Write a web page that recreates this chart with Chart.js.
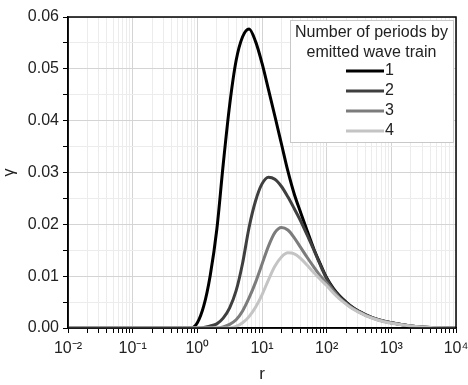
<!DOCTYPE html>
<html lang="en">
<head>
    <meta charset="UTF-8">
    <title>Gamma vs r</title>
    <script src="https://cdn.jsdelivr.net/npm/chart.js"></script>
    <style>
        html, body { margin: 0; padding: 0; background: #fff; }
        #wrap { width: 468px; height: 385px; }
    </style>
</head>
<body>
    <div id="wrap"><canvas id="chart" width="468" height="385"></canvas></div>

    <script>
        // r sample positions (log axis)
        const rValues = [0.01, 0.1, 0.3, 0.63, 0.8,
            1, 1.26, 1.58, 2, 2.51, 3.16, 3.98, 5.01, 6.31, 7.94,
            10, 12.6, 15.8, 20, 25.1, 31.6, 39.8, 50.1, 63.1, 79.4,
            100, 126, 158, 200, 251, 316, 398,
            631, 1000, 2000, 4000, 10000];

        const gamma1 = [0, 0, 0, 0, 0,
            0.0010, 0.0043, 0.0101, 0.0190, 0.0315, 0.0430, 0.0516, 0.0562, 0.0577, 0.0553,
            0.0511, 0.0460, 0.0409, 0.0355, 0.0303, 0.0258, 0.0222, 0.0187, 0.0153, 0.0124,
            0.0097, 0.0077, 0.0062, 0.0050, 0.0040, 0.0032, 0.0026,
            0.0016, 0.0010, 0.0004, 0.0001, 0];
        const gamma2 = [0, 0, 0, 0, 0,
            0, 0.0001, 0.0004, 0.0008, 0.0019, 0.0039, 0.0072, 0.0125, 0.0194, 0.0245,
            0.0278, 0.0291, 0.0287, 0.0273, 0.0253, 0.0230, 0.0206, 0.0179, 0.0151, 0.0122,
            0.0095, 0.0075, 0.0060, 0.0049, 0.0039, 0.0032, 0.0025,
            0.0016, 0.0010, 0.0004, 0.0001, 0];
        const gamma3 = [0, 0, 0, 0, 0,
            0, 0, 0, 0, 0.0002, 0.0007, 0.0016, 0.0033, 0.0058, 0.0088,
            0.0123, 0.0158, 0.0184, 0.0194, 0.0189, 0.0174, 0.0155, 0.0136, 0.0118, 0.0101,
            0.0087, 0.0072, 0.0058, 0.0047, 0.0038, 0.0031, 0.0025,
            0.0016, 0.0010, 0.0004, 0.0001, 0];
        const gamma4 = [0, 0, 0, 0, 0,
            0, 0, 0, 0, 0, 0, 0.0003, 0.0010, 0.0022, 0.0040,
            0.0064, 0.0093, 0.0119, 0.0137, 0.0145, 0.0143, 0.0134, 0.0121, 0.0107, 0.0094,
            0.0082, 0.0068, 0.0056, 0.0046, 0.0037, 0.0030, 0.0024,
            0.0015, 0.0009, 0.0004, 0.0001, 0];

        const seriesLabels = ['1', '2', '3', '4'];
        const seriesColors = ['#000000', '#3f3f3f', '#7c7c7c', '#c4c4c4'];
        const legendTitle = ['Number of periods by', 'emitted wave train'];

        const xTickLabels = {0.01: '10\u207B\u00B2', 0.1: '10\u207B\u00B9', 1: '10\u2070', 10: '10\u00B9',
            100: '10\u00B2', 1000: '10\u00B3', 10000: '10\u2074'};

        const FONT = "'Liberation Sans', Arial, sans-serif";
        Chart.defaults.font.family = FONT;
        Chart.defaults.color = '#222';

        const toPoints = arr => arr.map((v, i) => ({ x: rValues[i], y: v }));

        function isDecade(v) {
            const e = Math.log10(v);
            return Math.abs(e - Math.round(e)) < 1e-9;
        }

        // frame + boxed legend inside the plot
        const framePlugin = {
            id: 'frameLegend',
            afterDatasetsDraw(chart) {
                const { ctx, chartArea: a } = chart;
                ctx.save();
                ctx.strokeStyle = '#000';
                ctx.lineWidth = 1.5;
                ctx.strokeRect(a.left, a.top, a.right - a.left, a.bottom - a.top);

                const w = 163, h = 122;
                const bx = a.right - 3 - w, by = a.top + 3;
                ctx.fillStyle = '#fff';
                ctx.fillRect(bx, by, w, h);
                ctx.strokeStyle = '#c8c8c8';
                ctx.lineWidth = 1;
                ctx.strokeRect(bx + 0.5, by + 0.5, w, h);

                ctx.fillStyle = '#222';
                ctx.font = '16px ' + FONT;
                ctx.textAlign = 'center';
                ctx.textBaseline = 'middle';
                ctx.fillText(legendTitle[0], bx + w / 2, by + 13);
                ctx.fillText(legendTitle[1], bx + w / 2, by + 33);

                chart.data.datasets.forEach((ds, i) => {
                    const y = by + 51 + i * 20;
                    ctx.strokeStyle = ds.borderColor;
                    ctx.lineWidth = 3;
                    ctx.beginPath();
                    ctx.moveTo(bx + 56, y);
                    ctx.lineTo(bx + 94, y);
                    ctx.stroke();
                    ctx.fillStyle = '#222';
                    ctx.textAlign = 'left';
                    ctx.fillText(ds.label, bx + 95, y);
                });
                ctx.restore();
            }
        };

        new Chart(document.getElementById('chart'), {
            type: 'line',
            data: {
                datasets: [gamma1, gamma2, gamma3, gamma4].map((g, i) => ({
                    label: seriesLabels[i],
                    data: toPoints(g),
                    borderColor: seriesColors[i],
                    borderWidth: 3,
                    pointRadius: 0,
                    cubicInterpolationMode: 'monotone',
                    order: 3 - i
                }))
            },
            options: {
                responsive: false,
                animation: false,
                layout: { padding: { left: 0, right: 12, top: 17, bottom: 0 } },
                plugins: { legend: { display: false }, tooltip: { enabled: false } },
                scales: {
                    x: {
                        type: 'logarithmic',
                        min: 0.01,
                        max: 10000,
                        afterBuildTicks: scale => {
                            const ticks = [];
                            for (let e = -2; e <= 4; e++) {
                                for (let m = 1; m <= 9; m++) {
                                    const v = Number((m * Math.pow(10, e)).toPrecision(6));
                                    if (v > 10000) break;
                                    ticks.push({ value: v });
                                }
                            }
                            scale.ticks = ticks;
                        },
                        afterFit: scale => {
                            scale.height = 57;
                            scale.paddingLeft = 0;
                            scale.paddingRight = 0;
                        },
                        ticks: {
                            autoSkip: false,
                            maxRotation: 0,
                            padding: 6,
                            font: { size: 16 },
                            callback: v => xTickLabels[v] || ''
                        },
                        grid: {
                            color: c => isDecade(c.tick.value) ? '#d4d4d4' : '#ececec',
                            tickColor: '#000',
                            tickLength: 5
                        },
                        border: { color: '#000', width: 1.5 },
                        title: { display: true, text: 'r', font: { size: 17 }, padding: { top: 2, bottom: 0 } }
                    },
                    y: {
                        min: 0,
                        max: 0.06,
                        afterFit: scale => { scale.width = 68; },
                        ticks: {
                            stepSize: 0.005,
                            padding: 4,
                            font: { size: 16 },
                            callback: v => (Math.round(v * 1000) % 10 === 0) ? v.toFixed(2) : ''
                        },
                        grid: {
                            color: c => (Math.round(c.tick.value * 1000) % 10 === 0) ? '#d4d4d4' : '#ececec',
                            tickColor: '#000',
                            tickLength: 5
                        },
                        border: { color: '#000', width: 1.5 },
                        title: { display: true, text: '\u03B3', font: { size: 16 }, padding: { top: 0, bottom: 0 } }
                    }
                }
            },
            plugins: [framePlugin]
        });
    </script>
</body>
</html>
